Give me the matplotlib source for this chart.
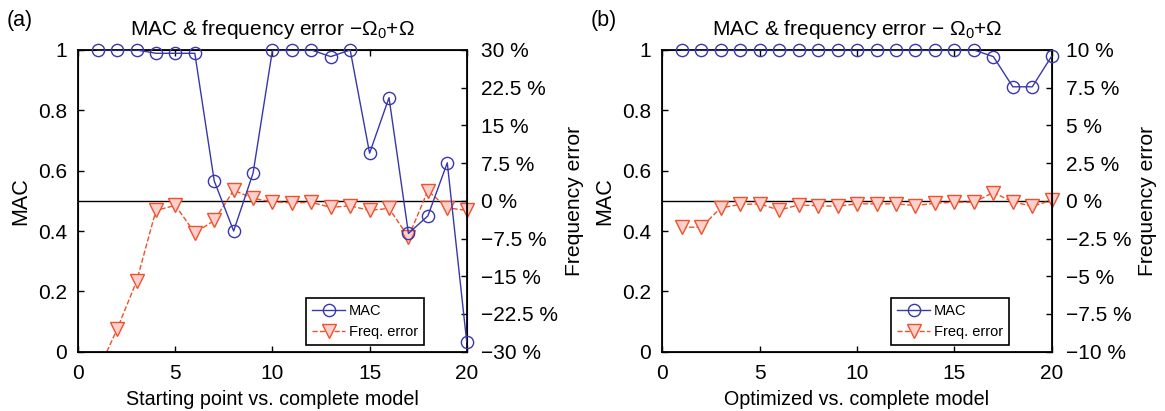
import matplotlib
matplotlib.use("Agg")
import matplotlib.pyplot as plt
from matplotlib.lines import Line2D

plt.rcParams["font.family"] = ["Liberation Sans", "DejaVu Sans"]
plt.rcParams["mathtext.fontset"] = "custom"
plt.rcParams["mathtext.rm"] = "Liberation Sans"
plt.rcParams["mathtext.it"] = "Liberation Sans:italic"

# --- data ------------------------------------------------------------------
modes = list(range(1, 21))

# (a) starting point vs. complete model
mac_a = [1.0, 1.0, 1.0, 0.989, 0.989, 0.989, 0.566, 0.40, 0.592, 1.0,
         1.0, 1.0, 0.978, 1.0, 0.658, 0.842, 0.392, 0.45, 0.626, 0.033]
freq_a = [-34.0, -25.5, -16.0, -1.9, -0.9, -6.4, -3.9, 2.1, 0.5, -0.2,
          -0.4, -0.3, -1.3, -1.0, -1.9, -1.5, -7.2, 2.0, -1.4, -1.9]

# (b) optimized vs. complete model
mac_b = [1.0] * 16 + [0.978, 0.878, 0.878, 0.98]
freq_b = [-1.75, -1.75, -0.47, -0.24, -0.2, -0.62, -0.27, -0.33, -0.36, -0.2,
          -0.2, -0.2, -0.31, -0.16, -0.09, -0.09, 0.55, -0.07, -0.36, 0.04]

mac_ticks = [0, 0.2, 0.4, 0.6, 0.8, 1]
mac_ticklabels = ["0", "0.2", "0.4", "0.6", "0.8", "1"]
freq_ticks_a = [-30, -22.5, -15, -7.5, 0, 7.5, 15, 22.5, 30]
freq_labels_a = ["\u221230 %", "\u221222.5 %", "\u221215 %", "\u22127.5 %", "0 %",
                 "7.5 %", "15 %", "22.5 %", "30 %"]
freq_ticks_b = [-10, -7.5, -5, -2.5, 0, 2.5, 5, 7.5, 10]
freq_labels_b = ["\u221210 %", "\u22127.5 %", "\u22125 %", "\u22122.5 %", "0 %",
                 "2.5 %", "5 %", "7.5 %", "10 %"]

BLUE = "#3838aa"
ORANGE = "#f0502a"
PINK = "#fcd0cc"

TICK_FS = 15
MS_CIRC = 8.8
MS_TRI = 10.5


def panel(rect, letter, title, xlabel, mac, freq, ftick, flabels, flim):
    ax = fig.add_axes(rect)
    ax.plot(modes, mac, "-", color=BLUE, lw=1.0, zorder=3)
    ax.plot(modes, mac, "o", color=BLUE, ms=MS_CIRC, markerfacecolor="none",
            markeredgewidth=1.0, zorder=3, clip_on=False)
    ax.set_xlim(0, 20)
    ax.set_ylim(0, 1)
    ax.set_xticks([0, 5, 10, 15, 20])
    ax.set_yticks(mac_ticks)
    ax.set_yticklabels(mac_ticklabels)
    ax.tick_params(direction="in", length=4, width=1, labelsize=TICK_FS,
                   top=True, right=True, pad=8)
    ax.tick_params(axis="x", pad=9)
    for s in ax.spines.values():
        s.set_linewidth(1.3)
    ax.set_ylabel("MAC", fontsize=15.5, labelpad=5)
    ax.set_xlabel(xlabel, fontsize=14.2, labelpad=5)
    ax.set_title(title, fontsize=15, pad=11)

    ax2 = ax.twinx()
    ax2.axhline(0, color="black", lw=1.0, zorder=1)
    ax2.plot(modes, freq, "--", color=ORANGE, lw=1.0, zorder=2)
    # markers only for points inside the axis range, drawn unclipped
    inside = [(m, f) for m, f in zip(modes, freq) if flim[0] <= f <= flim[1]]
    ax2.plot([p[0] for p in inside], [p[1] for p in inside], "v",
             ms=MS_TRI, markerfacecolor=PINK, markeredgecolor=ORANGE,
             markeredgewidth=1.0, zorder=2, clip_on=False)
    ax2.set_ylim(*flim)
    ax2.set_yticks(ftick)
    ax2.set_yticklabels(flabels)
    ax2.tick_params(direction="in", length=4, width=1, labelsize=TICK_FS, pad=10)
    ax2.set_ylabel("Frequency error", fontsize=15.2, labelpad=5)
    ax.set_zorder(ax2.get_zorder() + 1)
    ax.patch.set_visible(False)

    handles = [
        Line2D([0], [0], color=BLUE, lw=1.0, marker="o", ms=MS_CIRC,
               markerfacecolor="none", label="MAC"),
        Line2D([0], [0], color=ORANGE, lw=1.0, ls="--", marker="v", ms=MS_TRI,
               markerfacecolor=PINK, label="Freq. error"),
    ]
    leg = ax.legend(handles=handles, loc="lower right",
                    bbox_to_anchor=(0.89, 0.022), fontsize=10.5, frameon=True,
                    fancybox=False, edgecolor="black", framealpha=1,
                    handlelength=2.3, handletextpad=0.25, borderpad=0.4,
                    labelspacing=0.5, borderaxespad=0)
    leg.get_frame().set_linewidth(1.2)

    fig.text(rect[0] - 0.0615, 0.951, letter, fontsize=15.5, va="center")
    return ax


fig = plt.figure(figsize=(11.65, 4.11), dpi=100)

panel([0.0672, 0.1443, 0.3334, 0.7341], "(a)",
      "MAC & frequency error \u2212\u03a9$_0$+\u03a9",
      "Starting point vs. complete model",
      mac_a, freq_a, freq_ticks_a, freq_labels_a, (-30, 30))
panel([0.5685, 0.1443, 0.3343, 0.7341], "(b)",
      "MAC & frequency error \u2212 \u03a9$_0$+\u03a9",
      "Optimized vs. complete model",
      mac_b, freq_b, freq_ticks_b, freq_labels_b, (-10, 10))

fig.savefig("out.png", dpi=100)
